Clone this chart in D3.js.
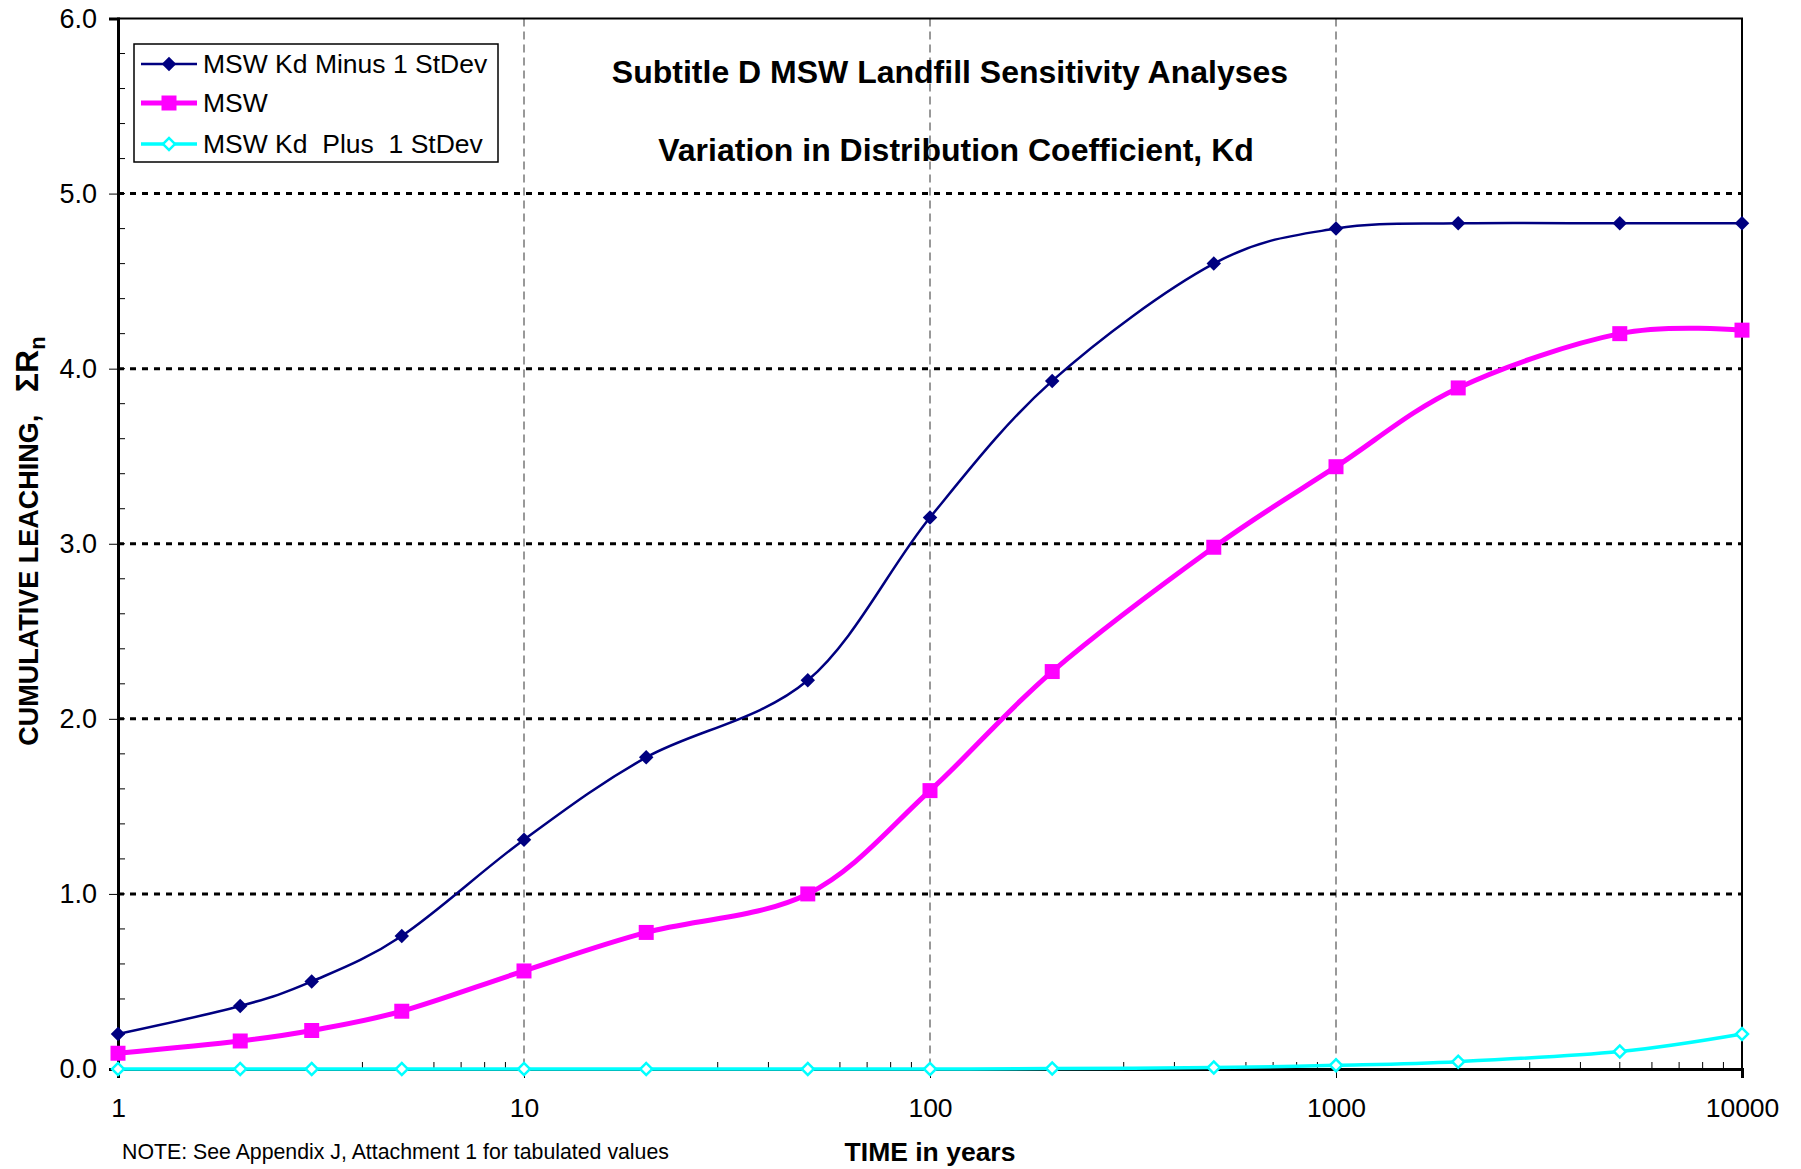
<!DOCTYPE html>
<html>
<head>
<meta charset="utf-8">
<script src="https://cdn.jsdelivr.net/npm/d3@7"></script>
<style>
  html, body { margin: 0; padding: 0; background: #fff; }
  text { font-family: "Liberation Sans", Arial, sans-serif; }
</style>
</head>
<body>
<div id="chart"></div>
<script>
// data
const years = [1, 2, 3, 5, 10, 20, 50, 100, 200, 500, 1000, 2000, 5000, 10000]
const kdMinus = [0.20, 0.36, 0.50, 0.76, 1.31, 1.78, 2.22, 3.15, 3.93, 4.60, 4.80, 4.83, 4.83, 4.83]
const msw = [0.09, 0.16, 0.22, 0.33, 0.56, 0.78, 1.00, 1.59, 2.27, 2.98, 3.44, 3.89, 4.20, 4.22]
const kdPlus = [0.00, 0.00, 0.00, 0.00, 0.00, 0.00, 0.00, 0.00, 0.003, 0.008, 0.021, 0.042, 0.10, 0.20]
const yTicks = [0, 1, 2, 3, 4, 5, 6]
const xTicks = [1, 10, 100, 1000, 10000]

const W = 1801
const H = 1169
const margin = { top: 18.5, right: 59, bottom: 100, left: 118 }
const width = W - margin.left - margin.right
const height = H - margin.top - margin.bottom

const svg = d3.select('#chart')
  .append('svg')
  .attr('width', W)
  .attr('height', H)
  .attr('viewBox', `0 0 ${W} ${H}`)

const x = d3.scaleLog().domain([1, 10000]).range([0, width])
const y = d3.scaleLinear().domain([0, 6]).range([height, 0])

const g = svg.append('g').attr('transform', `translate(${margin.left},${margin.top})`)

// vertical grid (grey dashed)
g.selectAll('.vgrid')
  .data([10, 100, 1000])
  .enter()
  .append('line')
  .attr('x1', (d) => x(d))
  .attr('x2', (d) => x(d))
  .attr('y1', 0)
  .attr('y2', height)
  .attr('stroke', '#333')
  .attr('stroke-width', 1)
  .attr('stroke-dasharray', '8,5')

// horizontal grid (black dotted)
g.selectAll('.hgrid')
  .data([1, 2, 3, 4, 5])
  .enter()
  .append('line')
  .attr('x1', 0)
  .attr('x2', width)
  .attr('y1', (d) => y(d))
  .attr('y2', (d) => y(d))
  .attr('stroke', '#000')
  .attr('stroke-width', 3)
  .attr('stroke-dasharray', '6,6')

// frame
g.append('rect')
  .attr('width', width)
  .attr('height', height)
  .attr('fill', 'none')
  .attr('stroke', '#000')
  .attr('stroke-width', 2)

// x axis: major ticks outside, minor inside
const xAxis = g.append('g')
  .attr('transform', `translate(0,${height})`)
  .call(d3.axisBottom(x).tickValues(xTicks).tickFormat(d3.format('d')).tickSize(9).tickPadding(20))
xAxis.select('.domain').attr('stroke-width', 3)
xAxis.selectAll('text').attr('font-size', 26.5).attr('fill', '#000')

const xMinor = []
for (let dec = 1; dec < 10000; dec *= 10) {
  for (let k = 2; k <= 9; k++) xMinor.push(dec * k)
}
g.selectAll('.xminor')
  .data(xMinor)
  .enter()
  .append('line')
  .attr('x1', (d) => x(d))
  .attr('x2', (d) => x(d))
  .attr('y1', height)
  .attr('y2', height - 7)
  .attr('stroke', '#000')
  .attr('stroke-width', 1)

// y axis
const yAxis = g.append('g')
  .call(d3.axisLeft(y).tickValues(yTicks).tickFormat(d3.format('.1f')).tickSize(9).tickPadding(12))
yAxis.select('.domain').attr('stroke-width', 3)
yAxis.selectAll('text').attr('font-size', 27).attr('fill', '#000')

g.selectAll('.yminor')
  .data(d3.range(0, 6.01, 0.2))
  .enter()
  .append('line')
  .attr('x1', 0)
  .attr('x2', 7)
  .attr('y1', (d) => y(d))
  .attr('y2', (d) => y(d))
  .attr('stroke', '#000')
  .attr('stroke-width', 1)

// series (diamonds are squares turned 45 degrees)
const series = [
  { name: 'MSW Kd Minus 1 StDev', values: kdMinus, color: '#000080', width: 2.5, symbol: d3.symbolSquare, rot: 45, size: 105, fill: '#000080', mstroke: 0 },
  { name: 'MSW', values: msw, color: '#ff00ff', width: 5, symbol: d3.symbolSquare, rot: 0, size: 225, fill: '#ff00ff', mstroke: 0 },
  { name: 'MSW Kd  Plus  1 StDev', values: kdPlus, color: '#00ffff', width: 3.5, symbol: d3.symbolSquare, rot: 45, size: 72, fill: '#fff', mstroke: 2.5 }
]

const line = d3.line()
  .x((d) => x(d[0]))
  .y((d) => y(d[1]))
  .curve(d3.curveCardinal.tension(0))

series.slice().reverse().forEach((s) => {
  const pts = years.map((yr, i) => [yr, s.values[i]])
  g.append('path')
    .datum(pts)
    .attr('d', line)
    .attr('fill', 'none')
    .attr('stroke', s.color)
    .attr('stroke-width', s.width)
  g.selectAll(null)
    .data(pts)
    .enter()
    .append('path')
    .attr('transform', (d) => `translate(${x(d[0])},${y(d[1])}) rotate(${s.rot})`)
    .attr('d', d3.symbol().type(s.symbol).size(s.size))
    .attr('fill', s.fill)
    .attr('stroke', s.mstroke ? s.color : 'none')
    .attr('stroke-width', s.mstroke)
})

// legend
const legend = svg.append('g').attr('transform', 'translate(134,44)')
legend.append('rect')
  .attr('width', 364)
  .attr('height', 118)
  .attr('fill', '#fff')
  .attr('stroke', '#000')
  .attr('stroke-width', 1.5)

const rowY = [20, 59, 100]
series.forEach((s, i) => {
  const row = legend.append('g').attr('transform', `translate(0,${rowY[i]})`)
  row.append('line')
    .attr('x1', 7).attr('x2', 63)
    .attr('stroke', s.color)
    .attr('stroke-width', s.width)
  row.append('path')
    .attr('transform', `translate(35,0) rotate(${s.rot})`)
    .attr('d', d3.symbol().type(s.symbol).size(s.size))
    .attr('fill', s.fill)
    .attr('stroke', s.mstroke ? s.color : 'none')
    .attr('stroke-width', s.mstroke)
  row.append('text')
    .attr('x', 69)
    .attr('y', 9)
    .attr('font-size', 26.5)
    .style('white-space', 'pre')
    .text(s.name)
})

// titles
svg.append('text')
  .attr('x', 950)
  .attr('y', 83)
  .attr('text-anchor', 'middle')
  .attr('font-size', 32)
  .attr('font-weight', 'bold')
  .text('Subtitle D MSW Landfill Sensitivity Analyses')

svg.append('text')
  .attr('x', 956)
  .attr('y', 161)
  .attr('text-anchor', 'middle')
  .attr('font-size', 32)
  .attr('font-weight', 'bold')
  .text('Variation in Distribution Coefficient, Kd')

// y axis title
const yTitle = svg.append('text')
  .attr('transform', 'translate(38,541) rotate(-90)')
  .attr('text-anchor', 'middle')
  .attr('font-size', 27)
  .attr('font-weight', 'bold')
  .style('white-space', 'pre')
yTitle.append('tspan').text('CUMULATIVE LEACHING,   ')
yTitle.append('tspan').attr('font-size', 32).text('ΣR')
yTitle.append('tspan').attr('font-size', 22).attr('dy', 7).text('n')

// x axis title
svg.append('text')
  .attr('x', 930)
  .attr('y', 1161)
  .attr('text-anchor', 'middle')
  .attr('font-size', 26.5)
  .attr('font-weight', 'bold')
  .text('TIME in years')

svg.append('text')
  .attr('x', 122)
  .attr('y', 1159)
  .attr('font-size', 21.3)
  .text('NOTE: See Appendix J, Attachment 1 for tabulated values')
</script>
</body>
</html>
